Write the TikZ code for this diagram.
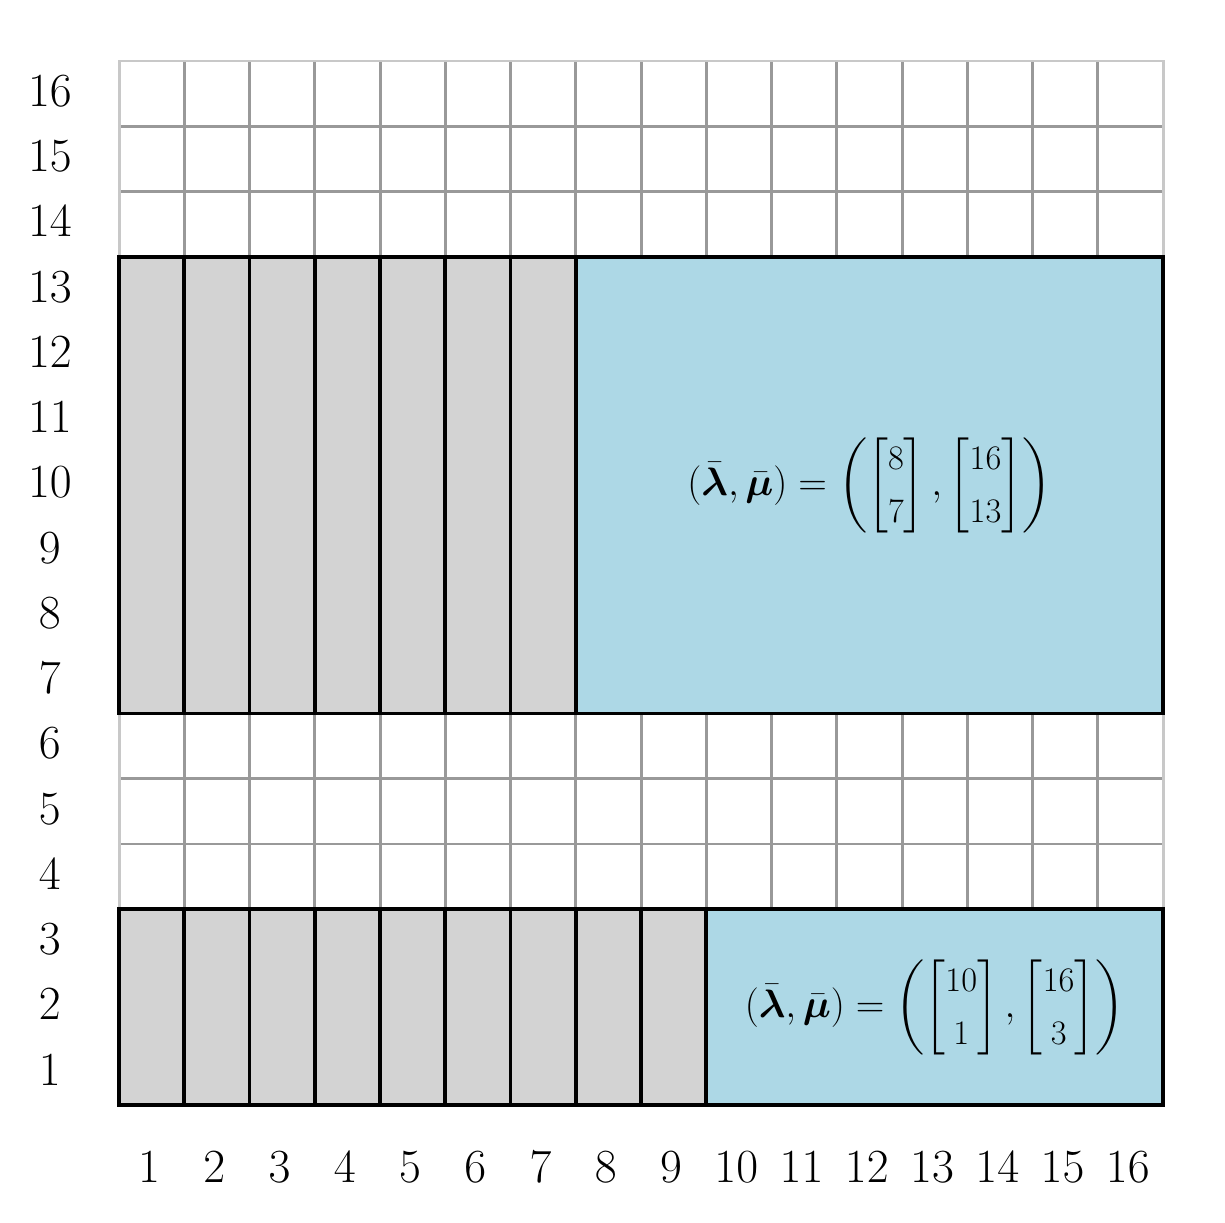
\documentclass[tikz,border=0pt]{standalone}
\usepackage{amsmath,bm}
\definecolor{cellgray}{HTML}{D3D3D3}
\definecolor{cellblue}{HTML}{ADD8E6}
\definecolor{gridin}{HTML}{999999}
\definecolor{gridout}{HTML}{C8C8C8}
\tikzset{
  gridline/.style={draw=gridin, line width=1.3pt},
  gridborder/.style={draw=gridout, line width=1.3pt},
  blockcell/.style={draw=black, line width=1.6pt},
  ticklab/.style={font=\fontsize{22}{26}\selectfont, inner sep=0pt},
  mathlab/.style={font=\fontsize{19}{23}\selectfont, inner sep=0pt}
}
\newcommand{\entry}[1]{\text{\fontsize{15}{18}\selectfont #1}}
\newcommand{\colvec}[2]{\begin{bmatrix}\entry{#1}\\\entry{#2}\end{bmatrix}}
\begin{document}
\begin{tikzpicture}
\useasboundingbox (-1.824,-1.808) rectangle (16.95,16.935);
% grid
\foreach \i in {1,...,15} {
  \draw[gridline] (\i,0) -- (\i,16);
  \draw[gridline] (0,\i) -- (16,\i);
}
\draw[gridborder] (0,0) rectangle (16,16);
% top block
\foreach \i in {0,...,6} {
  \filldraw[fill=cellgray, blockcell] (\i,6) rectangle (\i+1,13);
}
\filldraw[fill=cellblue, blockcell] (7,6) rectangle (16,13);
% bottom block
\foreach \i in {0,...,8} {
  \filldraw[fill=cellgray, blockcell] (\i,0) rectangle (\i+1,3);
}
\filldraw[fill=cellblue, blockcell] (9,0) rectangle (16,3);
% labels
\foreach \i in {1,...,16} {
  \node[ticklab] (y\i) at (-1.06,\i-0.46) {$\i$};
  \node[ticklab] (x\i) at (\i-0.54,-0.95) {$\i$};
}
\node[mathlab] (topmath) at (11.5,9.5) {$(\bar{\bm{\lambda}},\bar{\bm{\mu}})=\left(\colvec{8}{7},\colvec{16}{13}\right)$};
\node[mathlab] (botmath) at (12.5,1.5) {$(\bar{\bm{\lambda}},\bar{\bm{\mu}})=\left(\colvec{10}{1},\colvec{16}{3}\right)$};
\end{tikzpicture}
\end{document}
